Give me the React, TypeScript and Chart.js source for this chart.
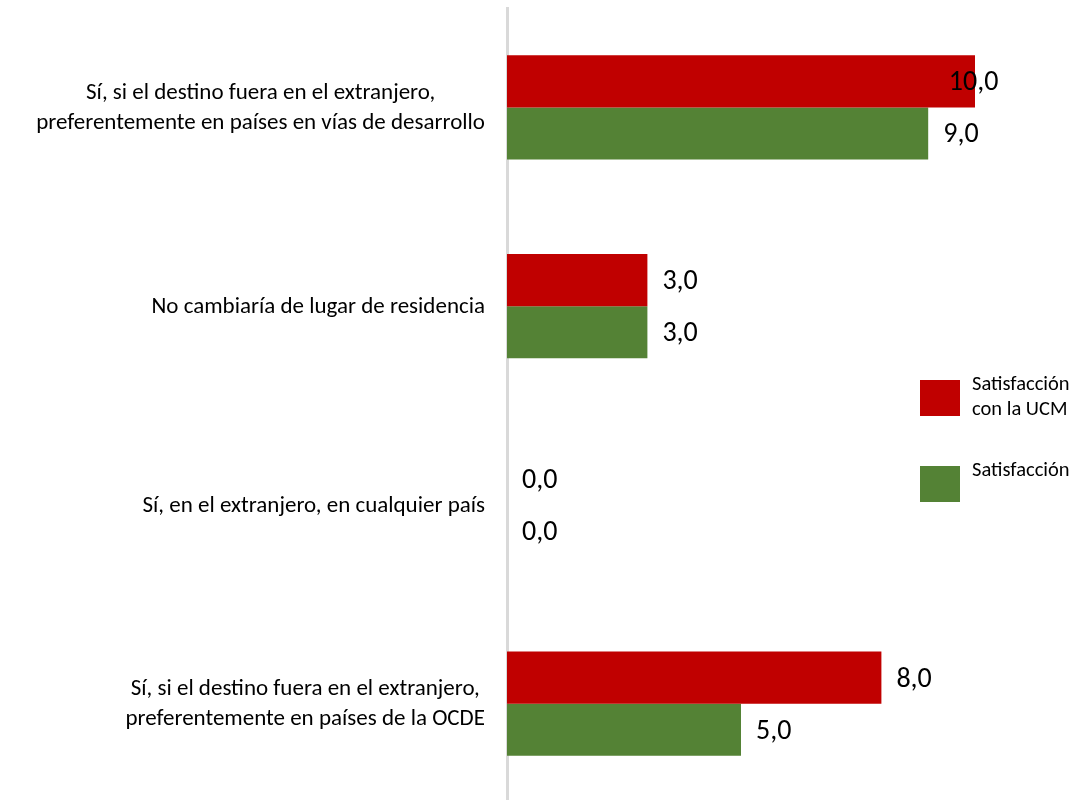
import { useEffect, useRef } from "react";
import { Chart, registerables } from "chart.js";

Chart.register(...registerables);

// Category labels (multi-line entries are centred within their block)
const categories: string[][] = [
  ["Sí, si el destino fuera en el extranjero,", "preferentemente en países en vías de desarrollo"],
  ["No cambiaría de lugar de residencia"],
  ["Sí, en el extranjero, en cualquier país"],
  ["Sí, si el destino fuera en el extranjero,", "preferentemente en países de la OCDE"],
];

const seriesNames: string[][] = [["Satisfacción", "con la UCM"], ["Satisfacción"]];
const ucmValues = [10, 3, 0, 8];
const satisfactionValues = [9, 3, 0, 5];
const seriesColors = ["#C00000", "#548235"];

const FONT = "Carlito, Lato, 'Open Sans', sans-serif";

const formatValue = (v: number) => v.toFixed(1).replace(".", ",");

// Draws the category names to the left of the axis
const categoryLabelsPlugin = {
  id: "categoryLabels",
  afterDraw(chart: any) {
    const { ctx } = chart;
    const yScale = chart.scales.y;
    const rightEdge = chart.chartArea.left - 22;
    const lineHeight = 30;
    ctx.save();
    ctx.font = `23px ${FONT}`;
    ctx.fillStyle = "#000000";
    ctx.textAlign = "center";
    ctx.textBaseline = "middle";
    categories.forEach((lines, i) => {
      const yc = yScale.getPixelForValue(i) + 1;
      const widest = Math.max(...lines.map((l) => ctx.measureText(l).width));
      const xc = rightEdge - widest / 2;
      const top = yc - ((lines.length - 1) * lineHeight) / 2;
      lines.forEach((line, j) => ctx.fillText(line, xc, top + j * lineHeight));
    });
    ctx.restore();
  },
};

// Value labels placed just past the end of each bar, kept inside the plot area
const valueLabelsPlugin = {
  id: "valueLabels",
  afterDatasetsDraw(chart: any) {
    const { ctx, chartArea } = chart;
    ctx.save();
    ctx.font = `28px ${FONT}`;
    ctx.fillStyle = "#000000";
    ctx.textAlign = "left";
    ctx.textBaseline = "middle";
    chart.data.datasets.forEach((ds: any, di: number) => {
      const meta = chart.getDatasetMeta(di);
      meta.data.forEach((bar: any, i: number) => {
        const text = formatValue(ds.data[i]);
        const w = ctx.measureText(text).width;
        let x = bar.x + 15;
        if (x + w > chartArea.right) x = chartArea.right - w;
        ctx.fillText(text, x, bar.y + 2);
      });
    });
    ctx.restore();
  },
};

// Legend with colour squares on the right side
const sideLegendPlugin = {
  id: "sideLegend",
  afterDraw(chart: any) {
    const { ctx } = chart;
    const boxX = 920;
    const textX = 972;
    const tops = [380, 466];
    ctx.save();
    ctx.font = `20.5px ${FONT}`;
    ctx.textAlign = "left";
    ctx.textBaseline = "middle";
    seriesNames.forEach((lines, i) => {
      ctx.fillStyle = seriesColors[i];
      ctx.fillRect(boxX, tops[i], 40, 36);
      ctx.fillStyle = "#000000";
      lines.forEach((line, j) => ctx.fillText(line, textX, tops[i] + 5 + j * 25));
    });
    ctx.restore();
  },
};

export default function App() {
  const canvasRef = useRef<HTMLCanvasElement | null>(null);

  useEffect(() => {
    if (!canvasRef.current) return;
    const chart = new Chart(canvasRef.current, {
      type: "bar",
      data: {
        labels: categories.map((c) => c.join(" ")),
        datasets: [
          {
            label: seriesNames[0].join(" "),
            data: ucmValues,
            backgroundColor: seriesColors[0],
            categoryPercentage: 0.525,
            barPercentage: 1,
          },
          {
            label: seriesNames[1].join(" "),
            data: satisfactionValues,
            backgroundColor: seriesColors[1],
            categoryPercentage: 0.525,
            barPercentage: 1,
          },
        ],
      },
      options: {
        indexAxis: "y",
        responsive: false,
        maintainAspectRatio: false,
        animation: false,
        layout: { padding: { left: 507, top: 8, right: 82.6, bottom: 0 } },
        plugins: {
          legend: { display: false },
          tooltip: { enabled: false },
        },
        scales: {
          x: {
            display: false,
            min: 0,
            max: 10.5,
          },
          y: {
            display: true,
            ticks: { display: false },
            grid: { display: false, drawTicks: false },
            border: { display: true, color: "#D9D9D9", width: 3 },
          },
        },
      },
      plugins: [categoryLabelsPlugin, valueLabelsPlugin, sideLegendPlugin],
    });
    return () => chart.destroy();
  }, []);

  return (
    <div
      style={{
        position: "absolute",
        left: 0,
        top: 0,
        width: 1081,
        height: 800,
        overflow: "hidden",
        background: "#ffffff",
      }}
    >
      <canvas ref={canvasRef} width={1081} height={803} style={{ display: "block" }} />
    </div>
  );
}
